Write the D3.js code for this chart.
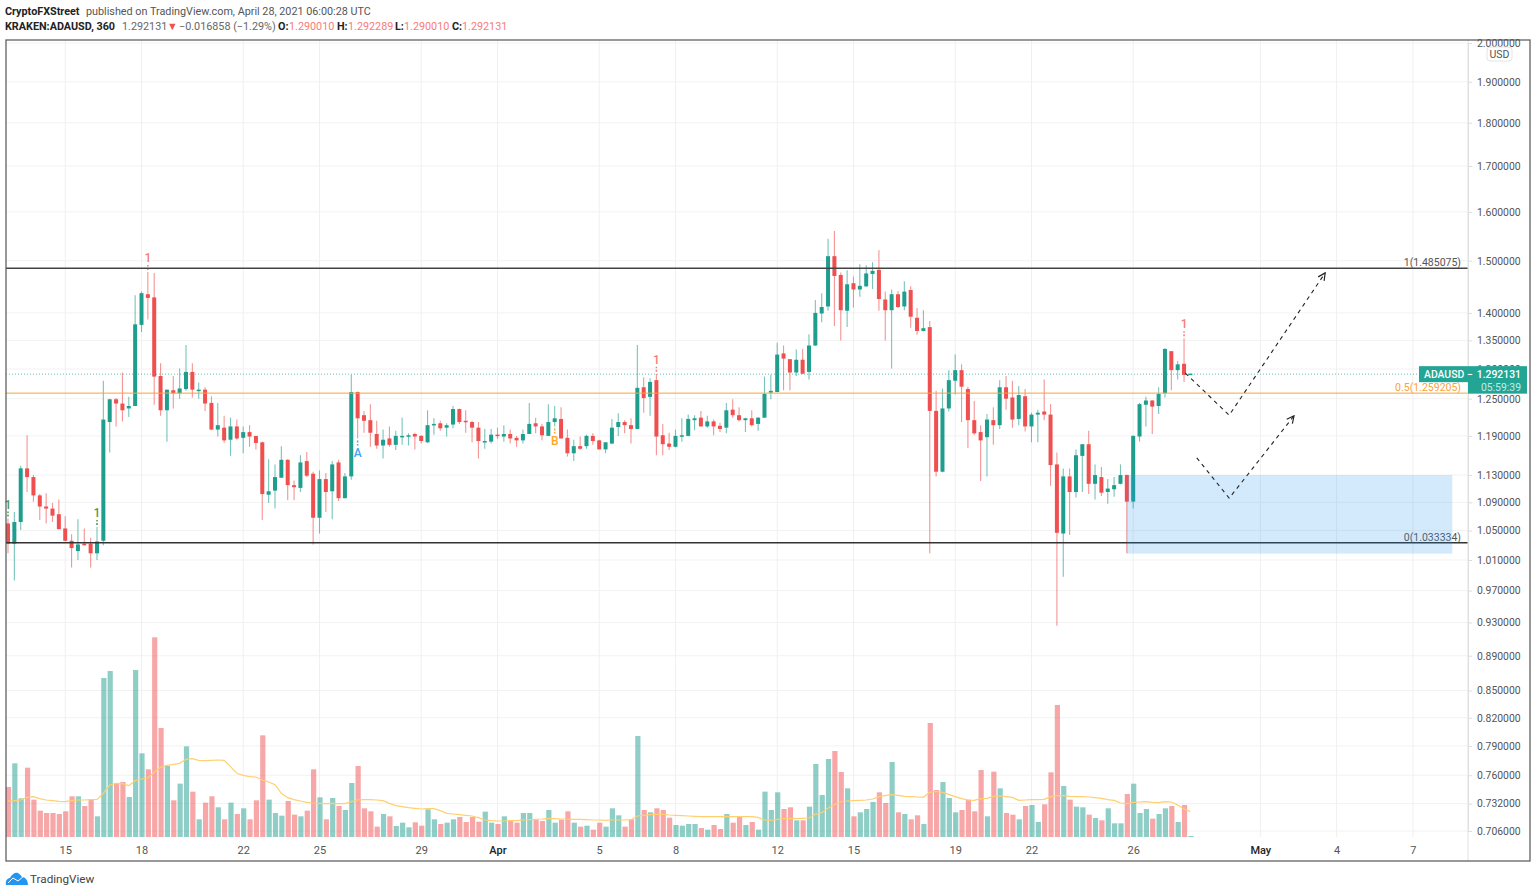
<!DOCTYPE html>
<html>
<head>
<meta charset="utf-8">
<script src="https://cdn.jsdelivr.net/npm/d3@7"></script>
<style>
  body { margin: 0; background: #fff; }
  svg { display: block; font-family: Roboto, "Liberation Sans", sans-serif; }
</style>
</head>
<body>
<div id="chart"></div>
<script>
// ADAUSD 6h candles
var opens = [1.060,1.032,1.062,1.140,1.127,1.100,1.084,1.081,1.073,1.053,
1.036,1.022,1.032,1.032,1.019,1.036,1.212,1.249,1.242,1.234,
1.238,1.378,1.435,1.429,1.288,1.231,1.264,1.259,1.266,1.295,
1.264,1.265,1.243,1.200,1.203,1.184,1.205,1.187,1.196,1.190,
1.180,1.101,1.107,1.126,1.153,1.115,1.111,1.151,1.132,1.068,
1.124,1.106,1.149,1.096,1.128,1.261,1.223,1.215,1.193,1.175,
1.186,1.176,1.189,1.189,1.193,1.190,1.180,1.208,1.210,1.203,
1.208,1.233,1.214,1.212,1.203,1.180,1.181,1.192,1.189,1.193,
1.187,1.183,1.193,1.210,1.205,1.190,1.212,1.217,1.187,1.163,
1.174,1.174,1.190,1.183,1.169,1.178,1.204,1.212,1.207,1.201,
1.269,1.253,1.281,1.191,1.178,1.173,1.189,1.190,1.215,1.219,
1.205,1.213,1.206,1.203,1.232,1.223,1.215,1.218,1.209,1.219,
1.260,1.261,1.327,1.317,1.294,1.316,1.295,1.341,1.399,1.412,
1.509,1.472,1.404,1.456,1.444,1.450,1.474,1.482,1.425,1.405,
1.435,1.412,1.443,1.391,1.367,1.374,1.230,1.135,1.234,1.280,
1.298,1.266,1.215,1.196,1.188,1.215,1.207,1.269,1.252,1.217,
1.254,1.205,1.224,1.229,1.224,1.146,1.046,1.128,1.105,1.159,
1.177,1.117,1.127,1.105,1.109,1.117,1.130,1.091,1.189,1.240,
1.247,1.238,1.259,1.331,1.298,1.309,1.290];
var highs = [1.067,1.076,1.144,1.191,1.130,1.102,1.103,1.089,1.094,1.070,
1.045,1.066,1.053,1.040,1.055,1.280,1.250,1.251,1.294,1.253,
1.433,1.440,1.478,1.476,1.310,1.265,1.288,1.301,1.342,1.310,
1.277,1.269,1.254,1.243,1.222,1.219,1.216,1.205,1.207,1.190,
1.181,1.154,1.146,1.174,1.154,1.122,1.160,1.165,1.135,1.137,
1.133,1.151,1.153,1.133,1.290,1.262,1.230,1.241,1.214,1.200,
1.205,1.198,1.219,1.194,1.195,1.191,1.231,1.218,1.214,1.210,
1.238,1.234,1.231,1.214,1.212,1.201,1.201,1.203,1.207,1.200,
1.190,1.200,1.243,1.219,1.209,1.241,1.238,1.236,1.200,1.184,
1.189,1.192,1.194,1.184,1.180,1.217,1.226,1.215,1.218,1.342,
1.286,1.284,1.292,1.209,1.195,1.200,1.218,1.224,1.223,1.230,
1.222,1.216,1.211,1.243,1.249,1.236,1.219,1.231,1.220,1.287,
1.290,1.346,1.341,1.317,1.334,1.335,1.361,1.424,1.437,1.544,
1.560,1.477,1.481,1.469,1.493,1.491,1.497,1.521,1.440,1.444,
1.441,1.460,1.450,1.409,1.405,1.385,1.263,1.267,1.298,1.325,
1.308,1.270,1.246,1.207,1.225,1.236,1.281,1.288,1.280,1.271,
1.266,1.227,1.232,1.282,1.241,1.164,1.140,1.140,1.169,1.177,
1.198,1.146,1.142,1.124,1.127,1.146,1.131,1.191,1.243,1.253,
1.248,1.269,1.336,1.331,1.314,1.354,1.292];
var lows = [1.019,0.983,1.051,1.105,1.091,1.065,1.060,1.062,1.052,1.035,
1.000,1.010,1.029,1.000,1.010,1.030,1.164,1.205,1.213,1.220,
1.238,1.365,1.388,1.240,1.222,1.181,1.234,1.250,1.263,1.252,
1.250,1.230,1.199,1.189,1.179,1.159,1.184,1.163,1.173,1.169,
1.065,1.089,1.081,1.126,1.093,1.093,1.105,1.127,1.031,1.046,
1.076,1.066,1.092,1.096,1.123,1.186,1.195,1.173,1.170,1.155,
1.173,1.168,1.176,1.175,1.169,1.178,1.179,1.192,1.198,1.189,
1.202,1.209,1.195,1.180,1.155,1.170,1.178,1.185,1.181,1.178,
1.173,1.178,1.193,1.194,1.183,1.190,1.205,1.186,1.158,1.151,
1.168,1.170,1.176,1.169,1.163,1.177,1.190,1.194,1.178,1.201,
1.227,1.222,1.160,1.160,1.168,1.172,1.181,1.189,1.199,1.205,
1.203,1.191,1.196,1.194,1.219,1.213,1.196,1.205,1.198,1.219,
1.249,1.261,1.264,1.264,1.288,1.291,1.282,1.340,1.383,1.404,
1.376,1.350,1.374,1.410,1.430,1.449,1.445,1.404,1.350,1.301,
1.409,1.405,1.373,1.360,1.366,1.019,1.128,1.134,1.229,1.257,
1.212,1.171,1.192,1.121,1.128,1.176,1.201,1.232,1.203,1.207,
1.197,1.180,1.180,1.215,1.114,0.926,0.988,1.044,1.097,1.105,
1.102,1.094,1.099,1.088,1.098,1.116,1.019,1.081,1.181,1.205,
1.193,1.225,1.252,1.264,1.282,1.278,1.290];
var closes = [1.032,1.062,1.140,1.127,1.100,1.084,1.081,1.071,1.052,1.036,
1.026,1.031,1.030,1.019,1.035,1.216,1.249,1.242,1.231,1.238,
1.379,1.437,1.428,1.287,1.231,1.265,1.259,1.267,1.295,1.265,
1.265,1.242,1.200,1.207,1.183,1.205,1.186,1.196,1.189,1.179,
1.102,1.106,1.127,1.153,1.115,1.112,1.149,1.129,1.068,1.124,
1.105,1.146,1.096,1.128,1.261,1.218,1.214,1.195,1.175,1.184,
1.176,1.190,1.190,1.191,1.189,1.182,1.207,1.209,1.202,1.207,
1.233,1.212,1.212,1.203,1.182,1.182,1.192,1.190,1.193,1.186,
1.183,1.193,1.209,1.205,1.191,1.212,1.218,1.186,1.163,1.174,
1.170,1.190,1.182,1.169,1.180,1.203,1.212,1.207,1.201,1.268,
1.251,1.278,1.189,1.177,1.173,1.190,1.191,1.217,1.218,1.205,
1.213,1.205,1.201,1.231,1.223,1.215,1.218,1.207,1.219,1.258,
1.263,1.325,1.318,1.294,1.316,1.292,1.341,1.400,1.411,1.509,
1.470,1.405,1.454,1.444,1.451,1.475,1.480,1.426,1.405,1.435,
1.411,1.440,1.393,1.367,1.372,1.230,1.135,1.234,1.281,1.298,
1.270,1.215,1.194,1.183,1.216,1.207,1.269,1.250,1.216,1.256,
1.205,1.224,1.227,1.224,1.145,1.047,1.128,1.105,1.160,1.177,
1.117,1.130,1.104,1.110,1.115,1.130,1.091,1.190,1.241,1.247,
1.237,1.258,1.335,1.298,1.308,1.290,1.292];
var volumes = [150,221,116,208,112,79,72,72,69,77,
122,122,93,112,62,477,498,161,165,120,
501,251,203,599,327,213,110,160,272,136,
53,103,122,89,53,103,69,86,53,110,
305,112,72,64,108,67,62,79,203,119,
53,117,93,81,162,213,86,77,31,69,
62,33,43,29,44,34,83,53,39,43,
53,60,45,60,46,76,43,39,62,48,
43,72,72,52,48,81,43,52,77,43,
31,34,22,43,31,86,65,31,53,303,
81,74,86,81,58,36,34,39,39,27,
22,36,24,69,43,62,36,45,22,136,
81,134,84,89,50,50,91,219,126,234,
258,195,146,62,74,84,105,134,102,225,
74,69,53,65,39,342,141,165,117,74,
81,112,77,201,62,196,146,72,67,53,
93,96,45,98,194,396,153,112,91,89,
67,57,50,86,41,41,129,160,72,84,
55,69,86,93,45,96,3];
var volMa = [108,109,111,119,121,115,111,109,107,106,
109,111,111,112,113,131,156,161,160,154,
169,174,177,194,209,215,218,221,233,235,
230,229,230,231,230,211,191,185,181,180,
171,165,157,131,118,112,108,104,102,101,
100,101,100,100,106,111,112,112,111,109,
101,94,91,88,86,84,85,85,79,71,
69,67,65,63,58,51,49,48,48,49,
49,51,52,53,54,56,55,54,54,53,
53,52,51,51,50,51,51,51,52,63,
65,67,68,68,66,65,64,63,62,61,
61,61,61,62,61,61,61,61,59,51,
50,53,55,56,55,56,57,68,73,86,
98,105,108,109,110,111,114,121,124,127,
125,122,121,120,119,134,137,134,128,121,
115,111,110,115,116,122,123,121,119,110,
111,112,112,113,121,124,124,122,121,121,
120,118,116,112,110,102,100,104,105,106,
104,103,106,105,96,84,76];

var priceTicks = [2.0,1.9,1.8,1.7,1.6,1.5,1.4,1.35,1.3,1.25,1.19,1.13,1.09,1.05,1.01,0.97,0.93,0.89,0.85,0.82,0.79,0.76,0.732,0.706];
var timeTickBars = [9,21,37,49,65,77,93,105,121,133,149,161,177,197,209,221];
var timeTickLabels = ["15","18","22","25","29","Apr","5","8","12","15","19","22","26","May","4","7"];

// fib levels and drawings
var fibLevels = [1.485075, 1.259205, 1.033334];
var fibLabels = ["1(1.485075)", "0.5(1.259205)", "0(1.033334)"];
var boxBars = [176, 227.2];
var boxPrices = [1.13, 1.0185];
var arrowOneBars = [185.2, 192.1, 207.2];
var arrowOnePrices = [1.293, 1.223, 1.476];
var arrowTwoBars = [187, 192.1, 202.3];
var arrowTwoPrices = [1.156, 1.096, 1.222];

// td sequential style signals
var signalBars = [0, 14, 22, 55, 86, 102, 185];
var signalLabels = ["1", "1", "1", "A", "B", "1", "1"];
var signalSides = ["up", "up", "up", "down", "down", "up", "up"];
var signalColors = ["#4c9a50", "#4c9a50", "#f77c7a", "#42a5f5", "#ffa726", "#f77c7a", "#f77c7a"];

var width = 1536, height = 895;
var left = 6, top_ = 40, right = 1530, bottom = 861, axisX = 1468, volBase = 837;
var green = "#1f9e8e", red = "#ef4f4f";

var svg = d3.select("#chart").append("svg")
  .attr("width", width)
  .attr("height", height);

var bars = d3.range(closes.length);

var x = d3.scaleLinear().domain([0, 186]).range([8, 1190.4]);
var y = d3.scaleLog().domain([0.706, 2]).range([831, 43]);
var yVol = d3.scaleLinear().domain([0, 600]).range([volBase, 637]);

function barColor(i) { return closes[i] >= opens[i] ? green : red; }

// grid
svg.append("g").selectAll("line")
  .data(priceTicks)
  .enter().append("line")
    .attr("x1", left).attr("x2", axisX)
    .attr("y1", function (d) { return y(d); })
    .attr("y2", function (d) { return y(d); })
    .attr("stroke", "#f2f2f2");
svg.append("g").selectAll("line")
  .data(timeTickBars)
  .enter().append("line")
    .attr("x1", function (d) { return x(d); })
    .attr("x2", function (d) { return x(d); })
    .attr("y1", top_).attr("y2", volBase)
    .attr("stroke", "#f0f0f0");

// volume
svg.append("g").selectAll("rect")
  .data(bars)
  .enter().append("rect")
    .attr("x", function (i) { return x(i) - 2.1; })
    .attr("width", 5.2)
    .attr("y", function (i) { return yVol(volumes[i]); })
    .attr("height", function (i) { return volBase - yVol(volumes[i]); })
    .attr("fill", function (i) { return barColor(i); })
    .attr("opacity", 0.5);

svg.append("path")
  .datum(bars)
  .attr("fill", "none")
  .attr("stroke", "#ffcf70")
  .attr("stroke-width", 1.2)
  .attr("d", d3.line()
    .x(function (i) { return x(i); })
    .y(function (i) { return yVol(volMa[i]); }));

// last price line
svg.append("line")
  .attr("x1", left).attr("x2", 1419)
  .attr("y1", y(closes[186]) + 0.5).attr("y2", y(closes[186]) + 0.5)
  .attr("stroke", "#26a69a")
  .attr("stroke-width", 1)
  .attr("stroke-dasharray", "1 2")
  .attr("opacity", 0.7);

// candles
var candles = svg.append("g").selectAll("g")
  .data(bars)
  .enter().append("g");

candles.append("line")
  .attr("x1", function (i) { return x(i); })
  .attr("x2", function (i) { return x(i); })
  .attr("y1", function (i) { return y(highs[i]); })
  .attr("y2", function (i) { return y(lows[i]); })
  .attr("stroke", function (i) { return barColor(i); })
  .attr("stroke-width", 1.1)
  .attr("opacity", 0.6);

candles.append("rect")
  .attr("x", function (i) { return x(i) - 2; })
  .attr("width", 4)
  .attr("y", function (i) { return y(Math.max(opens[i], closes[i])); })
  .attr("height", function (i) { return Math.max(1.5, Math.abs(y(opens[i]) - y(closes[i]))); })
  .attr("fill", function (i) { return barColor(i); });

// signals above / below candles
signalBars.forEach(function (b, k) {
  var up = signalSides[k] == "up";
  var base = up ? y(highs[b]) : y(lows[b]);
  var dir = up ? -1 : 1;
  svg.append("line")
    .attr("x1", x(b)).attr("x2", x(b))
    .attr("y1", base + dir * 2).attr("y2", base + dir * 7)
    .attr("stroke", signalColors[k])
    .attr("stroke-width", 1.5)
    .attr("stroke-dasharray", "2 1.5");
  svg.append("text")
    .attr("x", x(b))
    .attr("y", base + dir * 14)
    .attr("dy", "0.35em")
    .attr("text-anchor", "middle")
    .style("font-size", "12px")
    .style("font-weight", 500)
    .style("fill", signalColors[k])
    .text(signalLabels[k]);
});

// fib levels
var fibColors = ["#444", "#f7a33c", "#333"];
var fibWidths = [1.4, 1, 1.3];
fibLevels.forEach(function (d, k) {
  svg.append("line")
    .attr("x1", left).attr("x2", axisX)
    .attr("y1", y(d)).attr("y2", y(d))
    .attr("stroke", fibColors[k])
    .attr("stroke-width", fibWidths[k]);
  svg.append("text")
    .attr("x", 1461)
    .attr("y", y(d) - 2)
    .attr("text-anchor", "end")
    .style("font-size", "10.5px")
    .style("fill", k == 1 ? "#f7a33c" : "#555")
    .text(fibLabels[k]);
});

// target zone
svg.append("rect")
  .attr("x", x(boxBars[0]))
  .attr("width", x(boxBars[1]) - x(boxBars[0]))
  .attr("y", y(boxPrices[0]))
  .attr("height", y(boxPrices[1]) - y(boxPrices[0]))
  .attr("fill", "rgba(33,150,243,0.2)");

// projected moves
svg.append("defs").append("marker")
  .attr("id", "arrowHead")
  .attr("viewBox", "0 0 10 10")
  .attr("refX", 9).attr("refY", 5)
  .attr("markerWidth", 9).attr("markerHeight", 9)
  .attr("markerUnits", "userSpaceOnUse")
  .attr("orient", "auto")
  .append("path")
    .attr("d", "M1 1L9 5L1 9")
    .attr("fill", "none")
    .attr("stroke", "#222")
    .attr("stroke-width", 1.3);

var arrowLine = d3.line()
  .x(function (d) { return x(d[0]); })
  .y(function (d) { return y(d[1]); });

[[arrowOneBars, arrowOnePrices], [arrowTwoBars, arrowTwoPrices]].forEach(function (a) {
  svg.append("path")
    .attr("d", arrowLine(d3.zip(a[0], a[1])))
    .attr("fill", "none")
    .attr("stroke", "#222")
    .attr("stroke-width", 1.1)
    .attr("stroke-dasharray", "4 4")
    .attr("marker-end", "url(#arrowHead)");
});

// price axis
var priceAxis = svg.append("g")
  .attr("transform", "translate(" + axisX + ",0)")
  .call(d3.axisRight(y)
    .tickValues(priceTicks)
    .tickFormat(d3.format(".6f"))
    .tickSize(4)
    .tickPadding(5));
priceAxis.select(".domain").attr("stroke", "#ddd");
priceAxis.selectAll("line").attr("stroke", "#ddd");
priceAxis.selectAll("text")
  .style("font-size", "10.4px")
  .style("font-family", "Roboto, sans-serif")
  .style("fill", "#555");

svg.append("line")
  .attr("x1", axisX).attr("x2", axisX)
  .attr("y1", top_).attr("y2", bottom)
  .attr("stroke", "#e2e2e2");

// time axis
var timeAxis = svg.append("g")
  .attr("transform", "translate(0," + volBase + ")")
  .call(d3.axisBottom(x)
    .tickValues(timeTickBars)
    .tickFormat(function (d, i) { return timeTickLabels[i]; })
    .tickSize(0)
    .tickPadding(9));
timeAxis.select(".domain").remove();
timeAxis.selectAll("text")
  .style("font-size", "11px")
  .style("font-family", "Roboto, sans-serif")
  .style("fill", function (d, i) { return isNaN(+timeTickLabels[i]) ? "#222" : "#555"; })
  .style("font-weight", function (d, i) { return isNaN(+timeTickLabels[i]) ? 500 : 400; });

// frame
svg.append("rect")
  .attr("x", left).attr("y", top_)
  .attr("width", right - left).attr("height", bottom - top_)
  .attr("fill", "none")
  .attr("stroke", "#555")
  .attr("stroke-width", 1.2);

// USD badge
svg.append("rect")
  .attr("x", 1487).attr("y", 47).attr("width", 25).attr("height", 14).attr("rx", 3)
  .attr("fill", "#fff").attr("stroke", "#e4e4e4");
svg.append("text")
  .attr("x", 1499.5).attr("y", 57.5)
  .attr("text-anchor", "middle")
  .style("font-size", "10.5px").style("fill", "#555")
  .text("USD");

// last price label
var lastY = y(closes[186]);
svg.append("rect")
  .attr("x", 1419).attr("y", lastY - 7.5).attr("width", 108).attr("height", 16)
  .attr("fill", "#22a595");
svg.append("rect")
  .attr("x", axisX).attr("y", lastY + 8).attr("width", 59).attr("height", 12)
  .attr("fill", "#22a595");
svg.append("text")
  .attr("x", 1424).attr("y", lastY + 4)
  .style("font-size", "10.4px").style("font-weight", 500).style("fill", "#fff")
  .text("ADAUSD");
svg.append("text")
  .attr("x", 1467).attr("y", lastY + 4)
  .style("font-size", "10.4px").style("font-weight", 500).style("fill", "#fff")
  .text("−");
svg.append("text")
  .attr("x", 1521).attr("y", lastY + 4)
  .attr("text-anchor", "end")
  .style("font-size", "10.4px").style("font-weight", 500).style("fill", "#fff")
  .text("1.292131");
svg.append("text")
  .attr("x", 1521).attr("y", lastY + 17.5)
  .attr("text-anchor", "end")
  .style("font-size", "10.4px").style("fill", "#c4ebe5")
  .text("05:59:39");

// header
function headerText(tx, ty, s, color, weight) {
  svg.append("text")
    .attr("x", tx).attr("y", ty)
    .style("font-size", "10.8px")
    .style("font-weight", weight || 400)
    .style("fill", color)
    .text(s);
}
headerText(5, 15, "CryptoFXStreet", "#222", 700);
headerText(86, 15, "published on TradingView.com, April 28, 2021 06:00:28 UTC", "#555");
headerText(5, 30, "KRAKEN:ADAUSD, 360", "#222", 700);
headerText(122, 30, "1.292131", "#666");
headerText(167, 30, "▼", "#ef5350");
headerText(179, 30, "−0.016858 (−1.29%)", "#666");
var ohlcNames = ["O:", "H:", "L:", "C:"];
var ohlcValues = ["1.290010", "1.292289", "1.290010", "1.292131"];
var ohlcNameX = [278, 337, 395, 452];
var ohlcValueX = [289, 348, 404, 462];
ohlcNames.forEach(function (n, k) {
  headerText(ohlcNameX[k], 30, n, "#222", 700);
  headerText(ohlcValueX[k], 30, ohlcValues[k], "#f77c7a");
});

// logo
svg.append("path")
  .attr("d", "M6 885C5 880 8 878 10 878C12 874 15 872 18 873C20 874 21 876 22 877C25 877 28 880 28 885Z")
  .attr("fill", "#2196f3");
svg.append("path")
  .attr("d", "M8 883L13 878L18 881L24 876")
  .attr("fill", "none")
  .attr("stroke", "#fff")
  .attr("stroke-width", 1);
svg.append("text")
  .attr("x", 30).attr("y", 883)
  .style("font-size", "11.7px")
  .style("fill", "#444")
  .text("TradingView");
</script>
</body>
</html>
